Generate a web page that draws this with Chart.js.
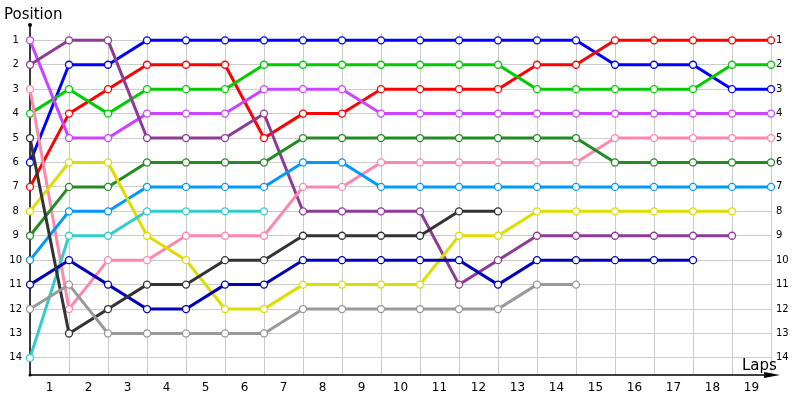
<!DOCTYPE html>
<html>
<head>
<meta charset="utf-8">
<script src="https://cdn.jsdelivr.net/npm/chart.js@4"></script>
<style>
  html, body { margin: 0; padding: 0; background: #fff; }
  #wrap { width: 800px; height: 400px; }
</style>
</head>
<body>
<div id="wrap"><canvas id="lapChart" width="800" height="400"></canvas></div>
<script>
const laps = [0, 1, 2, 3, 4, 5, 6, 7, 8, 9, 10, 11, 12, 13, 14, 15, 16, 17, 18, 19];
const positions = [1, 2, 3, 4, 5, 6, 7, 8, 9, 10, 11, 12, 13, 14];

const posBlue    = [6, 2, 2, 1, 1, 1, 1, 1, 1, 1, 1, 1, 1, 1, 1, 2, 2, 2, 3, 3];
const posRed     = [7, 4, 3, 2, 2, 2, 5, 4, 4, 3, 3, 3, 3, 2, 2, 1, 1, 1, 1, 1];
const posGreen   = [4, 3, 4, 3, 3, 3, 2, 2, 2, 2, 2, 2, 2, 3, 3, 3, 3, 3, 2, 2];
const posViolet  = [1, 5, 5, 4, 4, 4, 3, 3, 3, 4, 4, 4, 4, 4, 4, 4, 4, 4, 4, 4];
const posPurple  = [2, 1, 1, 5, 5, 5, 4, 8, 8, 8, 8, 11, 10, 9, 9, 9, 9, 9, 9];
const posPink    = [3, 12, 10, 10, 9, 9, 9, 7, 7, 6, 6, 6, 6, 6, 6, 5, 5, 5, 5, 5];
const posDkGreen = [9, 7, 7, 6, 6, 6, 6, 5, 5, 5, 5, 5, 5, 5, 5, 6, 6, 6, 6, 6];
const posLtBlue  = [10, 8, 8, 7, 7, 7, 7, 6, 6, 7, 7, 7, 7, 7, 7, 7, 7, 7, 7, 7];
const posYellow  = [8, 6, 6, 9, 10, 12, 12, 11, 11, 11, 11, 9, 9, 8, 8, 8, 8, 8, 8];
const posTeal    = [14, 9, 9, 8, 8, 8, 8];
const posNavy    = [11, 10, 11, 12, 12, 11, 11, 10, 10, 10, 10, 10, 11, 10, 10, 10, 10, 10];
const posBlack   = [5, 13, 12, 11, 11, 10, 10, 9, 9, 9, 9, 8, 8];
const posGray    = [12, 11, 13, 13, 13, 13, 13, 12, 12, 12, 12, 12, 12, 11, 11];

const series = [
    { name: 'Gray', data: posGray, color: '#999999' },
    { name: 'Black', data: posBlack, color: '#333333' },
    { name: 'Navy', data: posNavy, color: '#0000bb' },
    { name: 'Teal', data: posTeal, color: '#33cccc' },
    { name: 'Yellow', data: posYellow, color: '#dddd00' },
    { name: 'Light blue', data: posLtBlue, color: '#0099ff' },
    { name: 'Dark green', data: posDkGreen, color: '#228b22' },
    { name: 'Pink', data: posPink, color: '#ff88aa' },
    { name: 'Purple', data: posPurple, color: '#8e3a96' },
    { name: 'Violet', data: posViolet, color: '#cc44ff' },
    { name: 'Green', data: posGreen, color: '#00cc00' },
    { name: 'Red', data: posRed, color: '#ff0000' },
    { name: 'Blue', data: posBlue, color: '#0000ff' }
];

const axisArrows = {
    id: 'axisArrows',
    beforeDatasetsDraw(chart) {
        const ctx = chart.ctx;
        const a = chart.chartArea;
        ctx.save();
        ctx.strokeStyle = '#000';
        ctx.fillStyle = '#000';
        ctx.lineWidth = 1.5;
        ctx.beginPath();
        ctx.moveTo(a.left, 25);
        ctx.lineTo(a.left, a.bottom);
        ctx.lineTo(766, a.bottom);
        ctx.stroke();
        ctx.beginPath();
        ctx.moveTo(764, a.bottom - 3);
        ctx.lineTo(780, a.bottom);
        ctx.lineTo(764, a.bottom + 3);
        ctx.closePath();
        ctx.fill();
        ctx.beginPath();
        ctx.arc(a.left, 25, 2, 0, Math.PI * 2);
        ctx.arc(a.left, a.bottom, 1.5, 0, Math.PI * 2);
        ctx.fill();
        ctx.restore();
    },
    afterDraw(chart) {
        const ctx = chart.ctx;
        ctx.save();
        ctx.fillStyle = '#000';
        ctx.font = '15px "DejaVu Sans"';
        ctx.textBaseline = 'alphabetic';
        ctx.fillText('Laps', 742, 370);
        ctx.restore();
    }
};

function buildChart() {
    const ctx = document.getElementById('lapChart').getContext('2d');
    const datasets = series.map(s => ({
        label: s.name,
        data: s.data.map((p, i) => ({ x: laps[i], y: p })),
        borderColor: s.color,
        backgroundColor: '#ffffff',
        borderWidth: 3,
        pointRadius: 3.5,
        pointBorderWidth: 1.3,
        pointBorderColor: s.color,
        pointBackgroundColor: '#ffffff',
        clip: false,
        tension: 0
    }));

    new Chart(ctx, {
        type: 'line',
        data: { datasets: datasets },
        options: {
            responsive: false,
            animation: false,
            layout: { padding: { left: 4, right: 0, top: 0, bottom: 0 } },
            plugins: {
                legend: { display: false },
                tooltip: { enabled: false },
                title: {
                    display: true,
                    text: 'Position',
                    align: 'start',
                    color: '#000',
                    font: { family: 'DejaVu Sans', size: 15, weight: 'normal', lineHeight: 1.2 },
                    padding: { top: 6, bottom: 9 }
                }
            },
            scales: {
                x: {
                    type: 'linear',
                    position: 'bottom',
                    min: 0,
                    max: 19,
                    afterBuildTicks: axis => { axis.ticks = laps.map(v => ({ value: v })); },
                    afterFit: axis => { axis.height = 0; },
                    ticks: { display: false },
                    grid: { color: '#cccccc', lineWidth: 1, drawTicks: false },
                    border: { display: false }
                },
                xl: {
                    type: 'linear',
                    position: 'bottom',
                    min: 0,
                    max: 19,
                    afterBuildTicks: axis => {
                        axis.ticks = laps.slice(0, -1).map(v => ({ value: v + 0.5 }));
                    },
                    afterFit: axis => { axis.height = 25; },
                    ticks: {
                        autoSkip: false,
                        maxRotation: 0,
                        padding: 6,
                        color: '#000',
                        font: { family: 'DejaVu Sans', size: 12 },
                        callback: v => String(Math.round(v + 0.5))
                    },
                    grid: { display: false, drawTicks: false },
                    border: { display: false }
                },
                y: {
                    type: 'linear',
                    position: 'left',
                    reverse: true,
                    min: 0.7,
                    max: 14.7,
                    afterBuildTicks: axis => { axis.ticks = positions.map(v => ({ value: v })); },
                    afterFit: axis => { axis.width = 26; },
                    ticks: {
                        crossAlign: 'center',
                        padding: 8,
                        color: '#000',
                        font: { family: 'DejaVu Sans', size: 10 }
                    },
                    grid: { color: '#cccccc', lineWidth: 1, drawTicks: false },
                    border: { display: false }
                },
                y2: {
                    type: 'linear',
                    position: 'right',
                    reverse: true,
                    min: 0.7,
                    max: 14.7,
                    afterBuildTicks: axis => { axis.ticks = positions.map(v => ({ value: v })); },
                    afterFit: axis => { axis.width = 29; },
                    ticks: {
                        padding: 5,
                        color: '#000',
                        font: { family: 'DejaVu Sans', size: 10 }
                    },
                    grid: { display: false, drawTicks: false },
                    border: { display: false }
                }
            }
        },
        plugins: [axisArrows]
    });
}

document.addEventListener('DOMContentLoaded', buildChart);
</script>
</body>
</html>
